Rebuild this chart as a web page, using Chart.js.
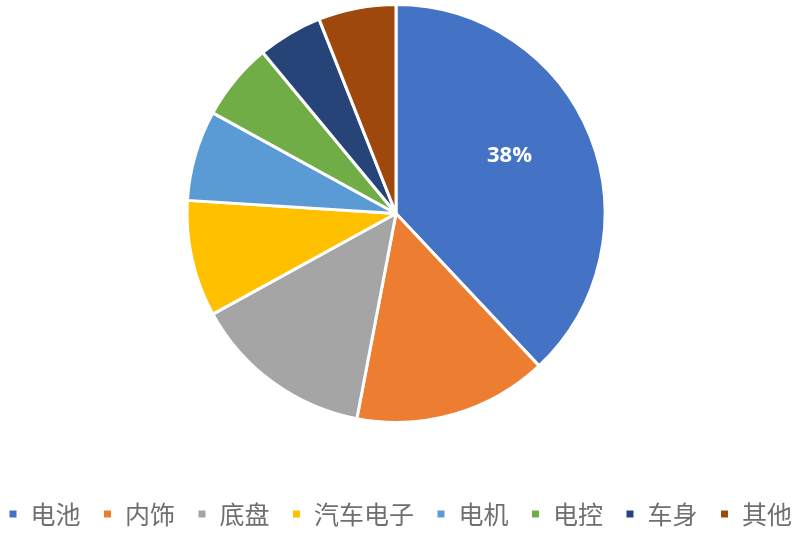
<!DOCTYPE html>
<html>
<head>
<meta charset="utf-8">
<script src="https://cdn.jsdelivr.net/npm/chart.js@4/dist/chart.umd.min.js"></script>
<style>
  html, body { margin: 0; padding: 0; background: #ffffff; }
  #wrap { width: 800px; height: 551px; position: relative; }
</style>
</head>
<body>
<div id="wrap"><canvas id="c"></canvas></div>
<script>
const categories = ['电池', '内饰', '底盘', '汽车电子', '电机', '电控', '车身', '其他'];
const shares = [38, 15, 14, 9, 7, 6, 5, 6];
const sliceLabels = ['38%', '', '', '', '', '', '', ''];
const sliceColors = ['#4472C4', '#ED7D31', '#A5A5A5', '#FFC000', '#5B9BD5', '#70AD47', '#264478', '#9E480E'];

const labelPlugin = {
  id: 'sliceLabels',
  afterDatasetsDraw(chart) {
    const meta = chart.getDatasetMeta(0);
    const ctx = chart.ctx;
    ctx.save();
    ctx.fillStyle = '#ffffff';
    ctx.font = 'bold 22px "Open Sans", "Liberation Sans", sans-serif';
    ctx.textAlign = 'center';
    ctx.textBaseline = 'middle';
    meta.data.forEach((arc, i) => {
      const txt = sliceLabels[i];
      if (!txt) return;
      const p = arc.getProps(['x', 'y', 'startAngle', 'endAngle', 'outerRadius'], true);
      const mid = p.startAngle + (p.endAngle - p.startAngle) * 0.46;
      const r = p.outerRadius * 0.61;
      ctx.fillText(txt, p.x + Math.cos(mid) * r, p.y + Math.sin(mid) * r);
    });
    ctx.restore();
  }
};

// nudge the plot area a few pixels left (the legend stays centred on the page)
const shiftPlugin = {
  id: 'shiftArea',
  afterLayout(chart) {
    const dx = -4;
    chart.chartArea.left += dx;
    chart.chartArea.right += dx;
  }
};

new Chart(document.getElementById('c'), {
  type: 'pie',
  data: {
    labels: categories,
    datasets: [{
      data: shares,
      backgroundColor: sliceColors,
      borderColor: '#ffffff',
      borderWidth: 3,
      radius: 209
    }]
  },
  options: {
    responsive: true,
    maintainAspectRatio: false,
    animation: false,
    layout: { padding: { left: -20, right: -20, top: 0, bottom: 14.5 } },
    plugins: {
      tooltip: { enabled: false },
      legend: {
        position: 'bottom',
        title: { display: true, text: '', font: { size: 10, lineHeight: 1 }, padding: { top: 42.5, bottom: 0 } },
        labels: {
          boxWidth: 10,
          boxHeight: 10,
          padding: 22,
          color: '#6f6f6f',
          font: { size: 25, family: '"Noto Sans CJK SC", sans-serif' }
        }
      }
    }
  },
  plugins: [labelPlugin, shiftPlugin]
});
</script>
</body>
</html>
